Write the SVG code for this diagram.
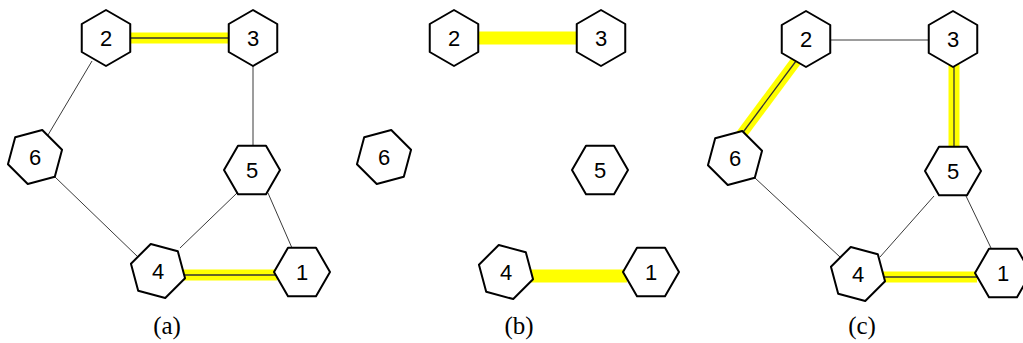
<svg xmlns="http://www.w3.org/2000/svg" xmlns:xlink="http://www.w3.org/1999/xlink" width="1023" height="343" viewBox="0 0 1023 343">
<style>
.hex{fill:#fff;stroke:#000;stroke-width:2;stroke-linejoin:round}
.lbl{font-family:"Liberation Sans",Arial,sans-serif;font-size:22px;fill:#000;text-anchor:middle}
.cap{font-family:"Liberation Serif","Times New Roman",serif;font-size:25px;fill:#000;text-anchor:middle}
.thin{stroke:#3a3a3a;stroke-width:1;fill:none}
.hl{stroke:#ffff00;stroke-width:11;fill:none}
.hlb{stroke:#ffff00;stroke-width:13;fill:none}
.core{stroke:#333;stroke-width:1.3;fill:none}
</style>
<defs>
<polygon id="hex" points="0,-28 24.25,-14 24.25,14 0,28 -24.25,14 -24.25,-14"/>
</defs>
<rect width="1023" height="343" fill="#fff"/>

<g id="connectors">
  <!-- panel a -->
  <line class="hl" x1="128" y1="38" x2="230" y2="38"/>
  <line class="core" x1="128" y1="38" x2="230" y2="38"/>
  <line class="thin" x1="92" y1="61" x2="48" y2="135"/>
  <line class="thin" x1="253" y1="66" x2="253" y2="146"/>
  <line class="thin" x1="55" y1="177" x2="138" y2="257"/>
  <line class="thin" x1="180" y1="248" x2="237" y2="193"/>
  <line class="thin" x1="268" y1="193" x2="292" y2="248"/>
  <line class="hl" x1="183" y1="275" x2="277" y2="275"/>
  <line class="core" x1="183" y1="275" x2="277" y2="275"/>
  <!-- panel b -->
  <line class="hlb" x1="477" y1="38" x2="578" y2="38"/>
  <line class="hlb" x1="530" y1="276" x2="627" y2="276"/>
  <!-- panel c -->
  <line class="thin" x1="831" y1="40" x2="929" y2="40"/>
  <line class="hl" x1="954" y1="64" x2="954" y2="149"/>
  <line class="core" x1="954" y1="64" x2="954" y2="149"/>
  <line class="hl" x1="799" y1="57" x2="741" y2="135"/>
  <line class="core" x1="799" y1="57" x2="741" y2="135"/>
  <line class="thin" x1="755" y1="178" x2="840" y2="257"/>
  <line class="thin" x1="880" y1="257" x2="934" y2="196"/>
  <line class="thin" x1="966" y1="196" x2="991" y2="248"/>
  <line class="hl" x1="883" y1="277" x2="977" y2="277"/>
  <line class="core" x1="883" y1="277" x2="977" y2="277"/>
</g>

<g id="a-node2"><use xlink:href="#hex" class="hex" transform="translate(106,38)"/><text class="lbl" x="106" y="46">2</text></g>
<g id="a-node3"><use xlink:href="#hex" class="hex" transform="translate(253,38)"/><text class="lbl" x="253" y="46">3</text></g>
<g id="a-node6"><use xlink:href="#hex" class="hex" transform="translate(35,157) rotate(15)"/><text class="lbl" x="35" y="165">6</text></g>
<g id="a-node5"><use xlink:href="#hex" class="hex" transform="translate(252,170) rotate(30)"/><text class="lbl" x="252" y="178">5</text></g>
<g id="a-node4"><use xlink:href="#hex" class="hex" transform="translate(158,271) rotate(-15)"/><text class="lbl" x="158" y="279">4</text></g>
<g id="a-node1"><use xlink:href="#hex" class="hex" transform="translate(302,272) rotate(30)"/><text class="lbl" x="302" y="280">1</text></g>

<g id="b-node2"><use xlink:href="#hex" class="hex" transform="translate(454,38)"/><text class="lbl" x="454" y="46">2</text></g>
<g id="b-node3"><use xlink:href="#hex" class="hex" transform="translate(601,38)"/><text class="lbl" x="601" y="46">3</text></g>
<g id="b-node6"><use xlink:href="#hex" class="hex" transform="translate(384,157) rotate(15)"/><text class="lbl" x="384" y="165">6</text></g>
<g id="b-node5"><use xlink:href="#hex" class="hex" transform="translate(600,170) rotate(30)"/><text class="lbl" x="600" y="178">5</text></g>
<g id="b-node4"><use xlink:href="#hex" class="hex" transform="translate(506,272) rotate(-15)"/><text class="lbl" x="506" y="280">4</text></g>
<g id="b-node1"><use xlink:href="#hex" class="hex" transform="translate(651,272) rotate(30)"/><text class="lbl" x="651" y="280">1</text></g>

<g id="c-node2"><use xlink:href="#hex" class="hex" transform="translate(806,39)"/><text class="lbl" x="806" y="47">2</text></g>
<g id="c-node3"><use xlink:href="#hex" class="hex" transform="translate(953,39)"/><text class="lbl" x="953" y="47">3</text></g>
<g id="c-node6"><use xlink:href="#hex" class="hex" transform="translate(735,158) rotate(15)"/><text class="lbl" x="735" y="166">6</text></g>
<g id="c-node5"><use xlink:href="#hex" class="hex" transform="translate(953,171) rotate(30)"/><text class="lbl" x="953" y="179">5</text></g>
<g id="c-node4"><use xlink:href="#hex" class="hex" transform="translate(858,274) rotate(-15)"/><text class="lbl" x="858" y="282">4</text></g>
<g id="c-node1"><use xlink:href="#hex" class="hex" transform="translate(1003,273) rotate(30)"/><text class="lbl" x="1003" y="281">1</text></g>

<g id="captions">
  <text class="cap" x="167" y="334">(a)</text>
  <text class="cap" x="519" y="334">(b)</text>
  <text class="cap" x="862" y="334">(c)</text>
</g>
</svg>
